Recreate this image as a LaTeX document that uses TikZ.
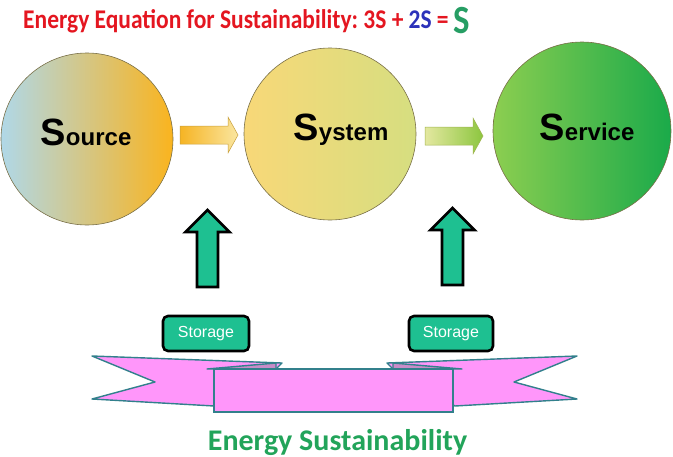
\documentclass[tikz,border=0pt]{standalone}
\usepackage{fontspec}
\setmainfont{Carlito}
\newfontfamily\arialfont{Liberation Sans}
\usepackage{tikz}
\frenchspacing

\definecolor{titlered}{RGB}{228,22,32}
\definecolor{eqblue}{RGB}{44,50,186}
\definecolor{eqgreen}{RGB}{38,158,100}
\definecolor{sustgreen}{RGB}{34,164,90}
\definecolor{storefill}{RGB}{30,192,145}
\definecolor{ribbonpink}{RGB}{255,150,250}
\definecolor{ribbonfold}{RGB}{200,140,200}
\definecolor{ribbonline}{RGB}{50,128,140}
\definecolor{rimline}{RGB}{120,110,70}

\tikzset{
  ball/.style={circle, draw=rimline, line width=0.6pt, shading=axis, inner sep=0pt},
  balltext/.style={anchor=base, inner sep=0pt, font=\arialfont\bfseries\fontsize{24}{24}\selectfont},
  storebox/.style={draw=black, line width=2.6pt, rounded corners=5pt, fill=storefill,
    text=white, font=\arialfont\fontsize{16}{16}\selectfont, inner sep=0pt,
    minimum height=35pt},
  uparrow/.style={draw=black, line width=2.8pt, fill=storefill, miter limit=4},
  ribbon/.style={draw=ribbonline, line width=1.4pt, fill=ribbonpink, line join=round}
}
\newcommand{\bigS}{{\fontsize{38}{38}\selectfont S}}

\begin{document}
\begin{tikzpicture}[x=1pt, y=-1pt]
  \useasboundingbox (0,0) rectangle (673,456);

  % title
  \node[anchor=base west, inner sep=0pt, xscale=0.87, text=titlered, font=\bfseries\fontsize{27}{27}\selectfont] (title) at (23,28)
    {Energy Equation for Sustainability: 3S + {\color{eqblue}2S} = {\color{eqgreen}\raisebox{-5pt}{\fontsize{40}{40}\selectfont S}}};

  % the three circles
  \node[ball, minimum size=172pt, left color={rgb,255:red,176;green,216;blue,232}, right color={rgb,255:red,250;green,180;blue,30}] (src) at (87,139) {};
  \node[ball, minimum size=172pt, left color={rgb,255:red,248;green,216;blue,120}, right color={rgb,255:red,214;green,222;blue,128}] (sys) at (330,134) {};
  \node[ball, minimum size=178pt, left color={rgb,255:red,140;green,206;blue,80}, right color={rgb,255:red,26;green,170;blue,74}] (srv) at (582,131) {};

  \node[balltext] (srclabel) at (86,145) {\bigS ource};
  \node[balltext] (syslabel) at (341,140) {\bigS ystem};
  \node[balltext] (srvlabel) at (587,140) {\bigS ervice};

  % block arrows between circles
  \shade[draw={rgb,255:red,200;green,160;blue,60}, line width=0.5pt, left color={rgb,255:red,246;green,180;blue,36}, right color={rgb,255:red,250;green,230;blue,160}]
    (180,126) -- (228,126) -- (228,117) -- (238,135) -- (228,153) -- (228,144) -- (180,144) -- cycle;
  \shade[draw={rgb,255:red,160;green,180;blue,80}, line width=0.5pt, left color={rgb,255:red,228;green,232;blue,160}, right color={rgb,255:red,140;green,198;blue,63}]
    (425,127) -- (473,127) -- (473,118) -- (483,136) -- (473,154) -- (473,145) -- (425,145) -- cycle;

  % storage arrows
  \foreach \cx/\ty in {207.5/210, 452.5/208} {
    \draw[uparrow] ({\cx-10.5},{\ty+77}) -- ({\cx-10.5},{\ty+22}) -- ({\cx-22},{\ty+22}) -- (\cx,\ty)
      -- ({\cx+22},{\ty+22}) -- ({\cx+10.5},{\ty+22}) -- ({\cx+10.5},{\ty+77}) -- cycle;
  }

  \node[storebox, minimum width=86pt] (store1) at (206,333.5) {Storage};
  \node[storebox, minimum width=84pt] (store2) at (451,333.5) {Storage};

  % ribbon tails, both sides
  \foreach \side/\off in {1/0, -1/669} {
    \begin{scope}[shift={(\off,0)}, xscale=\side]
      \draw[ribbon] (92,356) -- (282,363) -- (276,369) -- (214,406) -- (92,399) -- (155,382) -- cycle;
      \draw[ribbon, fill=ribbonfold] (207,369) -- (276,363) -- (276,369) -- cycle;
    \end{scope}
  }
  \draw[ribbon, line width=1.2pt, line join=miter] (214,369) rectangle (453,412);

  \node[anchor=base, inner sep=0pt, text=sustgreen, font=\bfseries\fontsize{30}{30}\selectfont] (sust) at (337.5,450) {Energy Sustainability};
\end{tikzpicture}
\end{document}
